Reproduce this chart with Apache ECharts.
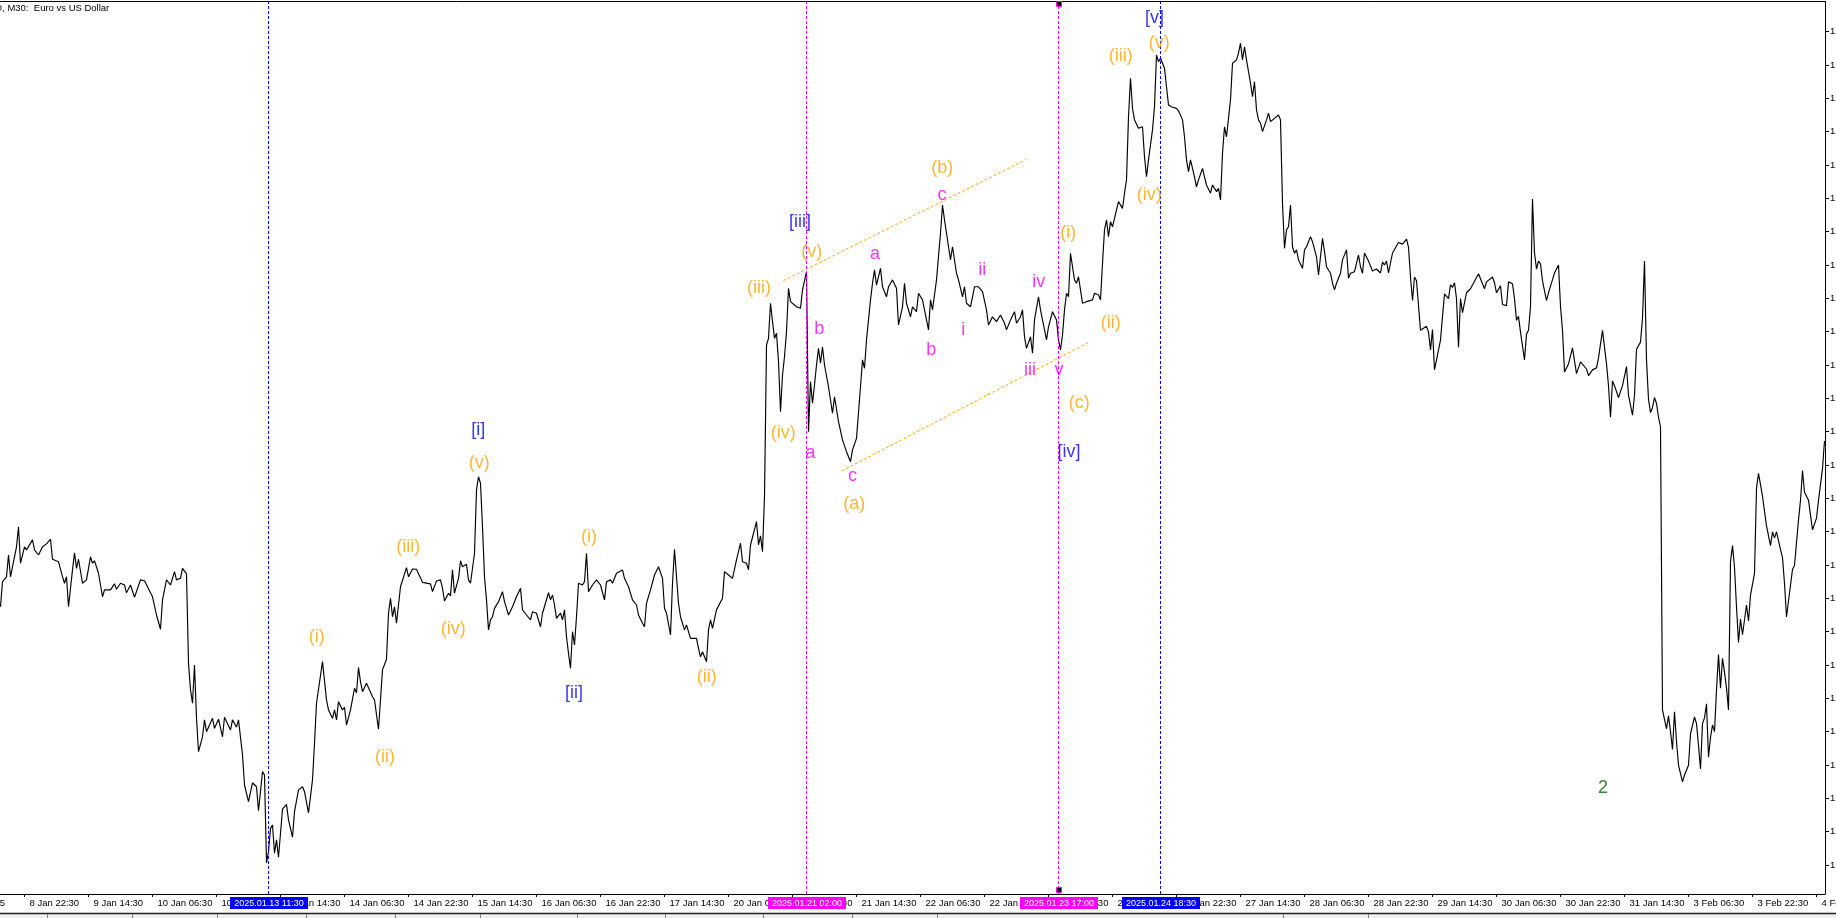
<!DOCTYPE html>
<html>
<head>
<meta charset="utf-8">
<title>EURUSD, M30</title>
<script src="https://cdn.jsdelivr.net/npm/echarts@6/dist/echarts.min.js"></script>
<style>
  html, body { margin: 0; padding: 0; background: #fff; }
  #chart { width: 1836px; height: 918px; }
</style>
</head>
<body>
<div id="chart"></div>
<script>
// bar = M30 bar number counted from 8 Jan 00:00, weekends skipped (48 bars a day)
var week1 = [[33,1.02862],[34,1.02975],[36,1.02997],[37,1.03095],[38,1.02997],[40,1.03087],[41,1.03132],[42,1.03222],[43,1.03058],[45,1.03132],[46,1.03118],[49,1.03163],[50,1.03118],[52,1.03095],[54,1.03132],[56,1.03145],[58,1.03166],[59,1.03076],[62,1.03065],[64,1.02997],[65,1.02968],[66,1.02997],[67,1.02862],[69,1.03028],[70,1.03105],[71,1.03035],[72,1.03076],[74,1.02968],[76,1.02983],[78,1.03087],[79,1.03058],[80,1.03069],[82,1.03013],[84,1.02907],[85,1.02938],[88,1.02938],[90,1.02965],[91,1.02941],[93,1.02968],[95,1.02960],[96,1.02925],[98,1.02960],[100,1.02905],[103,1.02983],[105,1.02979],[109,1.02907],[111,1.02825],[113,1.02761],[114,1.02893],[116,1.02983],[118,1.02960],[120,1.03020],[121,1.02983],[123,1.02990],[124,1.03035],[126,1.03010],[127,1.02608],[128,1.02488],[129,1.02428],[130,1.02600],[131,1.02360],[132,1.02210],[134,1.02277],[135,1.02353],[136,1.02300],[139,1.02360],[140,1.02315],[142,1.02356]];
var week2 = [[144,1.02277],[145,1.02365],[148,1.02308],[149,1.02353],[151,1.02320],[152,1.02353],[154,1.02195],[155,1.02060],[157,1.01985],[159,1.02070],[161,1.02052],[162,1.01944],[164,1.02120],[165,1.02105],[166,1.01710],[167,1.01760],[168,1.01865],[169,1.01880],[170,1.01753],[171,1.01813],[172,1.01735],[174,1.01951],[176,1.01973],[177,1.01903],[179,1.01825],[180,1.01940],[182,1.02038],[184,1.02052],[185,1.02030],[187,1.01935],[189,1.02083],[190,1.02248],[191,1.02428],[194,1.02615],[196,1.02443],[197,1.02398],[199,1.02360],[200,1.02398],[201,1.02353],[202,1.02435],[204,1.02398],[205,1.02410],[206,1.02330],[208,1.02398],[210,1.02495],[211,1.02475],[212,1.02588],[213,1.02525],[214,1.02480],[216,1.02518],[217,1.02510],[219,1.02457],[220,1.02443],[222,1.02311],[224,1.02578],[226,1.02626],[227,1.02833],[228,1.02900],[229,1.02817],[230,1.02862],[231,1.02788],[233,1.02952],[234,1.02960],[236,1.03038],[237,1.02997],[239,1.03032],[241,1.03031],[244,1.02972],[248,1.02965],[249,1.02930],[251,1.02978],[253,1.02983],[254,1.02945],[255,1.02888],[257,1.02923],[258,1.02911],[259,1.03028],[260,1.02923],[262,1.02990],[263,1.03069],[264,1.03042],[266,1.03053],[267,1.02983],[268,1.02968],[270,1.03103],[271,1.03388],[272,1.03447],[273,1.03418],[274,1.03222],[275,1.02997],[276,1.02893],[277,1.02758],[278,1.02803],[279,1.02817],[280,1.02855],[282,1.02885],[284,1.02930],[285,1.02885],[287,1.02825],[289,1.02862],[291,1.02907],[293,1.02945],[294,1.02848],[296,1.02825],[298,1.02803],[299,1.02840],[301,1.02833],[303,1.02772],[304,1.02833],[307,1.02925],[308,1.02893],[309,1.02915],[310,1.02870],[311,1.02810],[313,1.02833],[314,1.02803],[315,1.02848],[316,1.02727],[317,1.02653],[318,1.02585],[319,1.02750],[320,1.02690],[321,1.02817],[322,1.02968],[324,1.02960],[325,1.02975],[326,1.03103],[327,1.02930],[329,1.02960],[331,1.02983],[333,1.02960],[335,1.02893],[336,1.02975],[338,1.02983],[339,1.02968],[341,1.03013],[344,1.03028],[345,1.02990],[347,1.02952],[349,1.02893],[351,1.02870],[352,1.02825],[354,1.02788],[355,1.02772],[356,1.02878],[358,1.02938],[359,1.02930],[360,1.03005],[362,1.03042],[364,1.02990],[365,1.02855],[366,1.02833],[368,1.02735],[369,1.02968],[370,1.03121],[371,1.02997],[372,1.02878],[373,1.02817],[374,1.02788],[375,1.02758],[376,1.02780],[378,1.02720],[379,1.02713],[381,1.02720],[382,1.02675],[383,1.02637]];
var week3 = [[384,1.02660],[386,1.02615],[387,1.02758],[388,1.02803],[389,1.02765],[391,1.02848],[392,1.02840],[394,1.02900],[395,1.03020],[397,1.03005],[399,1.02990],[401,1.03073],[403,1.03148],[404,1.03065],[406,1.03058],[407,1.03028],[408,1.03140],[409,1.03148],[411,1.03245],[412,1.03140],[413,1.03181],[414,1.03110],[415,1.03357],[416,1.04040],[417,1.04070],[418,1.04228],[419,1.04145],[420,1.04070],[421,1.04093],[422,1.03965],[423,1.03740],[424,1.03905],[425,1.03987],[426,1.04100],[427,1.04295],[428,1.04235],[429,1.04228],[431,1.04212],[433,1.04205],[434,1.04288],[436,1.04370],[437,1.03650],[438,1.03875],[439,1.03778],[440,1.03860],[441,1.03950],[442,1.04025],[443,1.03958],[444,1.04032],[445,1.03950],[447,1.03852],[449,1.03733],[450,1.03807],[452,1.03695],[454,1.03613],[456,1.03560],[458,1.03515],[459,1.03568],[461,1.03620],[463,1.03852],[464,1.03973],[465,1.03935],[466,1.04063],[468,1.04243],[469,1.04318],[470,1.04378],[471,1.04310],[473,1.04385],[474,1.04302],[476,1.04257],[477,1.04302],[479,1.04333],[480,1.04340],[481,1.04295],[482,1.04130],[484,1.04212],[485,1.04318],[486,1.04228],[488,1.04167],[489,1.04212],[491,1.04190],[492,1.04273],[494,1.04243],[495,1.04198],[497,1.04108],[498,1.04243],[499,1.04198],[501,1.04333],[503,1.04543],[504,1.04670],[505,1.04603],[506,1.04543],[508,1.04423],[509,1.04482],[511,1.04363],[512,1.04333],[514,1.04257],[515,1.04302],[516,1.04228],[518,1.04212],[520,1.04302],[522,1.04302],[524,1.04280],[526,1.04198],[527,1.04130],[529,1.04167],[531,1.04145],[533,1.04175],[535,1.04138],[536,1.04108],[538,1.04153],[540,1.04190],[541,1.04138],[543,1.04167],[544,1.04198],[545,1.04077],[546,1.04025],[548,1.04077],[549,1.04003],[550,1.04153],[552,1.04257],[553,1.04198],[554,1.04205],[556,1.04063],[557,1.04122],[559,1.04190],[561,1.04153],[562,1.04063],[563,1.04018],[564,1.04085],[565,1.04198],[566,1.04273],[567,1.04257],[568,1.04453],[569,1.04392],[570,1.04333],[571,1.04318],[572,1.04347],[573,1.04288],[574,1.04228],[576,1.04235],[579,1.04243],[580,1.04273],[582,1.04265],[583,1.04243],[584,1.04408],[585,1.04558],[586,1.04603],[587,1.04527],[588,1.04595],[589,1.04572],[591,1.04648],[592,1.04685],[594,1.04655],[595,1.04723],[596,1.04783],[597,1.05067],[598,1.05240],[599,1.05105],[600,1.05053],[602,1.05015],[604,1.05022],[605,1.04887],[606,1.04797],[607,1.04873],[609,1.05008],[610,1.05112],[611,1.05345],[612,1.05315],[613,1.05330],[614,1.05308],[615,1.05285],[616,1.05202],[617,1.05120],[619,1.05110],[621,1.05105],[622,1.05094]];
var week4 = [[624,1.05053],[625,1.04977],[626,1.04873],[627,1.04820],[628,1.04873],[629,1.04865],[630,1.04797],[631,1.04752],[632,1.04783],[634,1.04835],[635,1.04797],[636,1.04760],[638,1.04723],[639,1.04760],[641,1.04730],[642,1.04745],[643,1.04693],[644,1.04903],[645,1.05022],[646,1.04977],[648,1.05143],[649,1.05308],[651,1.05323],[652,1.05353],[653,1.05398],[654,1.05323],[655,1.05382],[656,1.05323],[658,1.05218],[659,1.05157],[660,1.05225],[661,1.05098],[662,1.05053],[663,1.05038],[664,1.05000],[666,1.05053],[667,1.05083],[668,1.05045],[670,1.05060],[672,1.05075],[673,1.05053],[674,1.04678],[675,1.04475],[676,1.04558],[677,1.04572],[678,1.04670],[679,1.04482],[680,1.04453],[681,1.04468],[682,1.04423],[684,1.04385],[685,1.04468],[686,1.04482],[688,1.04527],[689,1.04505],[690,1.04513],[691,1.04437],[692,1.04355],[693,1.04347],[694,1.04520],[695,1.04460],[696,1.04392],[698,1.04363],[699,1.04318],[700,1.04288],[701,1.04318],[703,1.04363],[704,1.04423],[706,1.04468],[707,1.04340],[708,1.04363],[710,1.04370],[712,1.04445],[713,1.04392],[714,1.04363],[715,1.04454],[717,1.04418],[719,1.04373],[721,1.04382],[723,1.04364],[724,1.04413],[725,1.04400],[726,1.04418],[727,1.04364],[729,1.04454],[732,1.04501],[734,1.04494],[736,1.04516],[737,1.04480],[738,1.04346],[739,1.04240],[740,1.04346],[741,1.04329],[743,1.04106],[744,1.04110],[746,1.04124],[747,1.04098],[748,1.04018],[749,1.04110],[750,1.03928],[751,1.03928],[753,1.04062],[754,1.04169],[755,1.04270],[757,1.04249],[758,1.04311],[759,1.04299],[760,1.04320],[761,1.04249],[762,1.04030],[763,1.04249],[764,1.04186],[766,1.04275],[768,1.04293],[769,1.04299],[772,1.04361],[774,1.04316],[775,1.04293],[776,1.04324],[777,1.04329],[779,1.04346],[780,1.04320],[781,1.04275],[783,1.04306],[784,1.04222],[786,1.04217],[787,1.04324],[789,1.04316],[790,1.04249],[791,1.04151],[792,1.04169],[793,1.04098],[795,1.03973],[796,1.04089],[797,1.04106],[798,1.04213],[799,1.04697],[800,1.04454],[801,1.04382],[802,1.04418],[803,1.04405],[804,1.04329],[806,1.04240],[807,1.04275],[809,1.04334],[810,1.04364],[812,1.04400],[813,1.04213],[814,1.04106],[815,1.03919],[816,1.03928],[817,1.03955],[819,1.04027],[820,1.04027],[821,1.03911],[823,1.03964],[824,1.03960],[826,1.03932],[827,1.03902],[829,1.03928],[831,1.03937],[832,1.03982],[834,1.04106],[835,1.04110],[836,1.03955],[837,1.03857],[838,1.03715],[839,1.03878],[840,1.03857],[842,1.03804],[843,1.03800],[844,1.03857],[846,1.03943],[847,1.03813],[849,1.03724],[850,1.03813],[851,1.04021],[852,1.04027],[853,1.04053],[854,1.04160],[855,1.04418],[856,1.03973],[857,1.03795],[858,1.03736],[859,1.03759],[860,1.03804],[861,1.03777],[862,1.03715],[863,1.03671]];
var week5 = [[864,1.02398],[865,1.02389],[866,1.02313],[867,1.02371],[868,1.02300],[869,1.02220],[870,1.02389],[871,1.02256],[872,1.02149],[874,1.02074],[875,1.02105],[877,1.02149],[878,1.02291],[880,1.02366],[881,1.02336],[882,1.02238],[883,1.02132],[884,1.02336],[885,1.02362],[886,1.02425],[887,1.02185],[888,1.02274],[889,1.02330],[890,1.02300],[891,1.02487],[892,1.02647],[893,1.02496],[894,1.02630],[895,1.02567],[896,1.02496],[897,1.02398],[898,1.03065],[899,1.03137],[900,1.03039],[901,1.02861],[902,1.02701],[903,1.02807],[904,1.02736],[905,1.02727],[906,1.02870],[907,1.02798],[908,1.02914],[909,1.02923],[910,1.03012],[911,1.03395],[912,1.03462],[913,1.03412],[914,1.03359],[916,1.03226],[918,1.03137],[919,1.03199],[920,1.03172],[921,1.03199],[923,1.03119],[924,1.03083],[925,1.02968],[926,1.02816],[927,1.02888],[928,1.02897],[929,1.03030],[930,1.03048],[932,1.03253],[933,1.03341],[934,1.03475],[935,1.03377],[937,1.03341],[939,1.03208],[941,1.03261],[942,1.03341],[944,1.03484],[945,1.03608]];

var tickBars = [45,77,109,141,173,205,237,269,301,333,365,397,429,461,493,525,557,589,621,653,685,717,749,781,813,845,877,909,941];
var tickLabels = ['8 Jan 22:30','9 Jan 14:30','10 Jan 06:30','10 Jan 22:30','13 Jan 14:30','14 Jan 06:30','14 Jan 22:30','15 Jan 14:30','16 Jan 06:30','16 Jan 22:30','17 Jan 14:30','20 Jan 06:30','20 Jan 22:30','21 Jan 14:30','22 Jan 06:30','22 Jan 22:30','23 Jan 14:30','24 Jan 06:30','24 Jan 22:30','27 Jan 14:30','28 Jan 06:30','28 Jan 22:30','29 Jan 14:30','30 Jan 06:30','30 Jan 22:30','31 Jan 14:30','3 Feb 06:30','3 Feb 22:30','4 Feb 14:30'];
var priceTicks = [1.0170,1.0185,1.0200,1.0215,1.0230,1.0245,1.0260,1.0275,1.0290,1.0305,1.0320,1.0335,1.0350,1.0365,1.0380,1.0395,1.0410,1.0425,1.0440,1.0455,1.0470,1.0485,1.0500,1.0515,1.0530,1.0545];

var blueLines = [167, 613];
var blueLineTimes = ['2025.01.13 11:30', '2025.01.24 18:30'];
var magentaLines = [436, 562];
var magentaLineTimes = ['2025.01.21 02:00', '2025.01.23 17:00'];

var channelUpper = [[424.4,1.04329],[546.1,1.04876]];
var channelLower = [[453.6,1.03473],[577.75,1.04055]];

var waveOrange = [[191.1,1.02727,'(i)'],[225.25,1.02187,'(ii)'],[236.9,1.03130,'(iii)'],[259.4,1.02761,'(iv)'],[272.4,1.03508,'(v)'],
  [327.25,1.03175,'(i)'],[386.1,1.02547,'(ii)'],[412.25,1.04295,'(iii)'],[424.4,1.03643,'(iv)'],[438.6,1.04460,'(v)'],
  [459.9,1.03325,'(a)'],[503.9,1.04835,'(b)'],[572.4,1.03778,'(c)'],
  [566.9,1.04545,'(i)'],[588.1,1.04138,'(ii)'],[593.1,1.05341,'(iii)'],[607.4,1.04715,'(iv)'],[612.4,1.05398,'(v)']];
var waveBlue = [[271.9,1.03658,'[i]'],[319.75,1.02475,'[ii]'],[432.75,1.04595,'[iii]'],[567.25,1.03560,'[iv]'],[610,1.05513,'[v]']];
var waveMagenta = [[438,1.03553,'a'],[442.4,1.04113,'b'],[459,1.03451,'c'],[470.25,1.04450,'a'],[498.4,1.04018,'b'],[503.75,1.04715,'c'],
  [514.4,1.04108,'i'],[523.9,1.04378,'ii'],[547.75,1.03928,'iii'],[552.1,1.04325,'iv'],[562.25,1.03928,'v']];
var waveGreen = [[834.25,1.02047,'2']];

var FONT = '"Liberation Sans", Arial, sans-serif';

var dom = document.getElementById('chart');
var myChart = echarts.init(dom, null, { renderer: 'canvas' });

function waveSeries(list, color) {
  return {
    type: 'scatter',
    silent: true,
    z: 6,
    symbolSize: 1,
    itemStyle: { color: 'rgba(0,0,0,0)' },
    label: { show: true, position: 'inside', formatter: '{b}', color: color, fontSize: 18, fontFamily: FONT },
    data: list.map(function (d) { return { name: d[2], value: [d[0], d[1]] }; })
  };
}

function vLine(bar, color) {
  return { xAxis: bar, lineStyle: { color: color, width: 1, type: [3, 2] } };
}

var option = {
  backgroundColor: '#ffffff',
  animation: false,
  grid: { left: 0, right: 11, top: 1.5, bottom: 24, containLabel: false, outerBoundsMode: 'none' },
  xAxis: {
    type: 'value',
    min: 32.75,
    max: 945.25,
    axisLine: { show: true, lineStyle: { color: '#000', width: 1 } },
    axisTick: { show: true, length: 3, customValues: tickBars, lineStyle: { color: '#000' } },
    axisLabel: {
      customValues: tickBars,
      formatter: function (v) { var i = tickBars.indexOf(v); return i < 0 ? '' : tickLabels[i]; },
      align: 'left', margin: 4, padding: [0, 0, 0, 5],
      color: '#000', fontSize: 9.5, fontFamily: FONT
    },
    splitLine: { show: false }
  },
  yAxis: {
    type: 'value',
    position: 'right',
    min: 1.015695,
    max: 1.0558575,
    axisLine: { show: true, lineStyle: { color: '#000', width: 1 } },
    axisTick: { show: true, length: 4, customValues: priceTicks, lineStyle: { color: '#000' } },
    axisLabel: {
      customValues: priceTicks,
      formatter: function (v) { return v.toFixed(5); },
      margin: 5, color: '#000', fontSize: 9.5, fontFamily: FONT
    },
    splitLine: { show: false }
  },
  series: [
    {
      name: 'EURUSD',
      type: 'line',
      symbol: 'none',
      z: 3,
      lineStyle: { color: '#000', width: 1.15 },
      data: week1.concat(week2, week3, week4, week5)
    },
    {
      name: 'objects',
      type: 'line',
      data: [],
      z: 2,
      markLine: {
        silent: true,
        symbol: ['none', 'none'],
        label: { show: false },
        data: [
          vLine(blueLines[0], '#0000ff'),
          vLine(blueLines[1], '#0000ff'),
          vLine(magentaLines[0], '#ff00ff'),
          vLine(magentaLines[1], '#ff00ff'),
          [{ coord: channelUpper[0], lineStyle: { color: '#ffa500', width: 1, type: [3, 2] } }, { coord: channelUpper[1] }],
          [{ coord: channelLower[0], lineStyle: { color: '#ffa500', width: 1, type: [3, 2] } }, { coord: channelLower[1] }]
        ]
      }
    },
    waveSeries(waveOrange, '#ffa500'),
    waveSeries(waveBlue, '#0000ff'),
    waveSeries(waveMagenta, '#ff00ff'),
    waveSeries(waveGreen, '#006400')
  ]
};

myChart.setOption(option);

// time boxes on the axis, chart title and the tab strip
var g = [];
function xPix(bar) { return Math.round(myChart.convertToPixel({ gridIndex: 0 }, [bar, 1.03])[0]); }
function timeBox(bar, text, color) {
  var x = xPix(bar);
  g.push({ type: 'rect', z: 100, shape: { x: x - 39, y: 897, width: 78, height: 12 }, style: { fill: color } });
  g.push({ type: 'text', z: 101, x: x, y: 903.5, style: { text: text, fill: '#fff', font: '9px ' + FONT, align: 'center', verticalAlign: 'middle' } });
}
blueLines.forEach(function (b, i) { timeBox(b, blueLineTimes[i], '#0000ff'); });
magentaLines.forEach(function (b, i) { timeBox(b, magentaLineTimes[i], '#ff00ff'); });

var mx = xPix(magentaLines[1]);
g.push({ type: 'rect', z: 102, shape: { x: mx - 2.5, y: 1.5, width: 5, height: 5 }, style: { fill: '#000', stroke: '#ff00ff', lineWidth: 1 } });
g.push({ type: 'rect', z: 102, shape: { x: mx - 2.5, y: 887.5, width: 5, height: 5 }, style: { fill: '#000', stroke: '#ff00ff', lineWidth: 1 } });

g.push({ type: 'line', z: 50, shape: { x1: 0, y1: 1.5, x2: 1825.5, y2: 1.5 }, style: { stroke: '#000', lineWidth: 1 } });
g.push({ type: 'text', z: 50, x: -38, y: 3, style: { text: 'EURUSD, M30:  Euro vs US Dollar', fill: '#000', font: '9.5px ' + FONT, align: 'left', verticalAlign: 'top' } });
g.push({ type: 'text', z: 50, x: 5, y: 903.5, style: { text: '8 Jan 2025', fill: '#000', font: '9.5px ' + FONT, align: 'right', verticalAlign: 'middle' } });

g.push({ type: 'rect', z: 40, shape: { x: 0, y: 913, width: 1836, height: 5 }, style: { fill: '#f0f0f0' } });
g.push({ type: 'line', z: 41, shape: { x1: 0, y1: 913.5, x2: 1836, y2: 913.5 }, style: { stroke: '#202020', lineWidth: 1.5 } });
[47, 132, 217, 306, 395, 480, 577, 665, 763, 852, 937, 1283, 1368].forEach(function (x) {
  g.push({ type: 'line', z: 41, shape: { x1: x + 0.5, y1: 914, x2: x + 0.5, y2: 918 }, style: { stroke: '#808080', lineWidth: 1 } });
});

myChart.setOption({ graphic: g });
</script>
</body>
</html>
